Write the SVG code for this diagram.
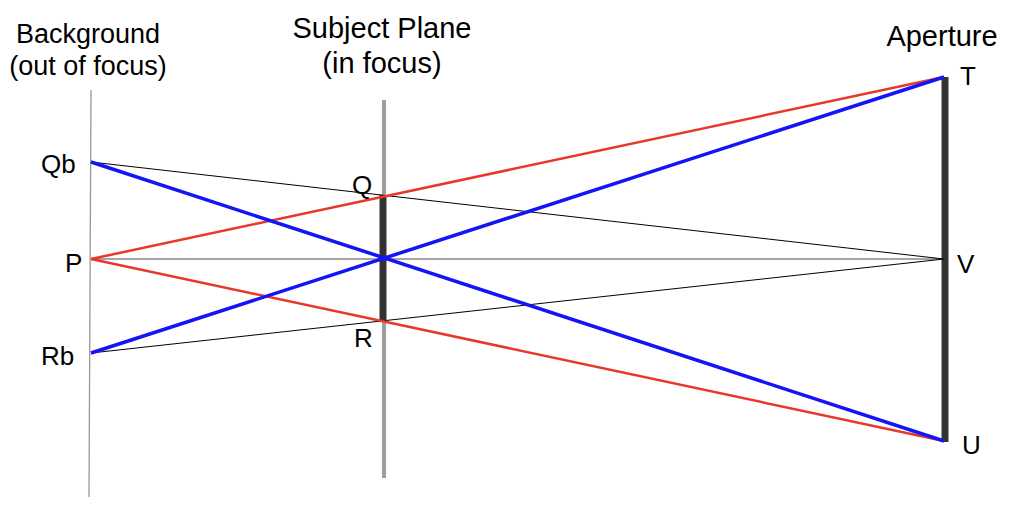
<svg xmlns="http://www.w3.org/2000/svg" width="1024" height="516" viewBox="0 0 1024 516">
<style>
text{font-family:"Liberation Sans",Arial,sans-serif;fill:#000}
.t{font-size:27px;text-anchor:middle}
.l{font-size:26px}
.red{stroke:#e8382b;stroke-width:2.5;fill:none}
.blue{stroke:#1414f5;stroke-width:3.5;fill:none}
.thin{stroke:#000;stroke-width:1;fill:none}
</style>
<rect width="1024" height="516" fill="#fff"/>
<g id="background-plane">
<line x1="91" y1="90" x2="89" y2="497" stroke="#999" stroke-width="1.3"/>
<text class="t" x="88" y="43">Background</text>
<text class="t" x="88" y="75">(out of focus)</text>
</g>
<g id="subject-plane">
<line x1="384" y1="100" x2="384" y2="478" stroke="#9e9e9e" stroke-width="4"/>
<line x1="383" y1="195" x2="383" y2="321" stroke="#333" stroke-width="7"/>
<text class="t" x="382" y="38" style="font-size:29px">Subject Plane</text>
<text class="t" x="382" y="73" style="font-size:29px">(in focus)</text>
</g>
<g id="aperture">
<line x1="945" y1="77" x2="945" y2="442" stroke="#333" stroke-width="7"/>
<text class="t" x="942" y="46" style="font-size:29px">Aperture</text>
</g>
<g id="connectors">
<line x1="91" y1="259" x2="944" y2="259" stroke="#888" stroke-width="1.3"/>
<line class="thin" x1="91" y1="162" x2="944" y2="259"/>
<line class="thin" x1="91" y1="353" x2="944" y2="259"/>
<line class="red" x1="91" y1="259" x2="944" y2="77"/>
<line class="red" x1="91" y1="259" x2="944" y2="441"/>
<line class="blue" x1="91" y1="162" x2="944" y2="441"/>
<line class="blue" x1="91" y1="353" x2="944" y2="77"/>
</g>
<g id="labels">
<text class="l" x="41" y="173">Qb</text>
<text class="l" x="65" y="272">P</text>
<text class="l" x="41" y="365">Rb</text>
<text class="l" x="352" y="194">Q</text>
<text class="l" x="354" y="347">R</text>
<text class="l" x="960" y="85">T</text>
<text class="l" x="957" y="273">V</text>
<text class="l" x="962" y="454">U</text>
</g>
</svg>
